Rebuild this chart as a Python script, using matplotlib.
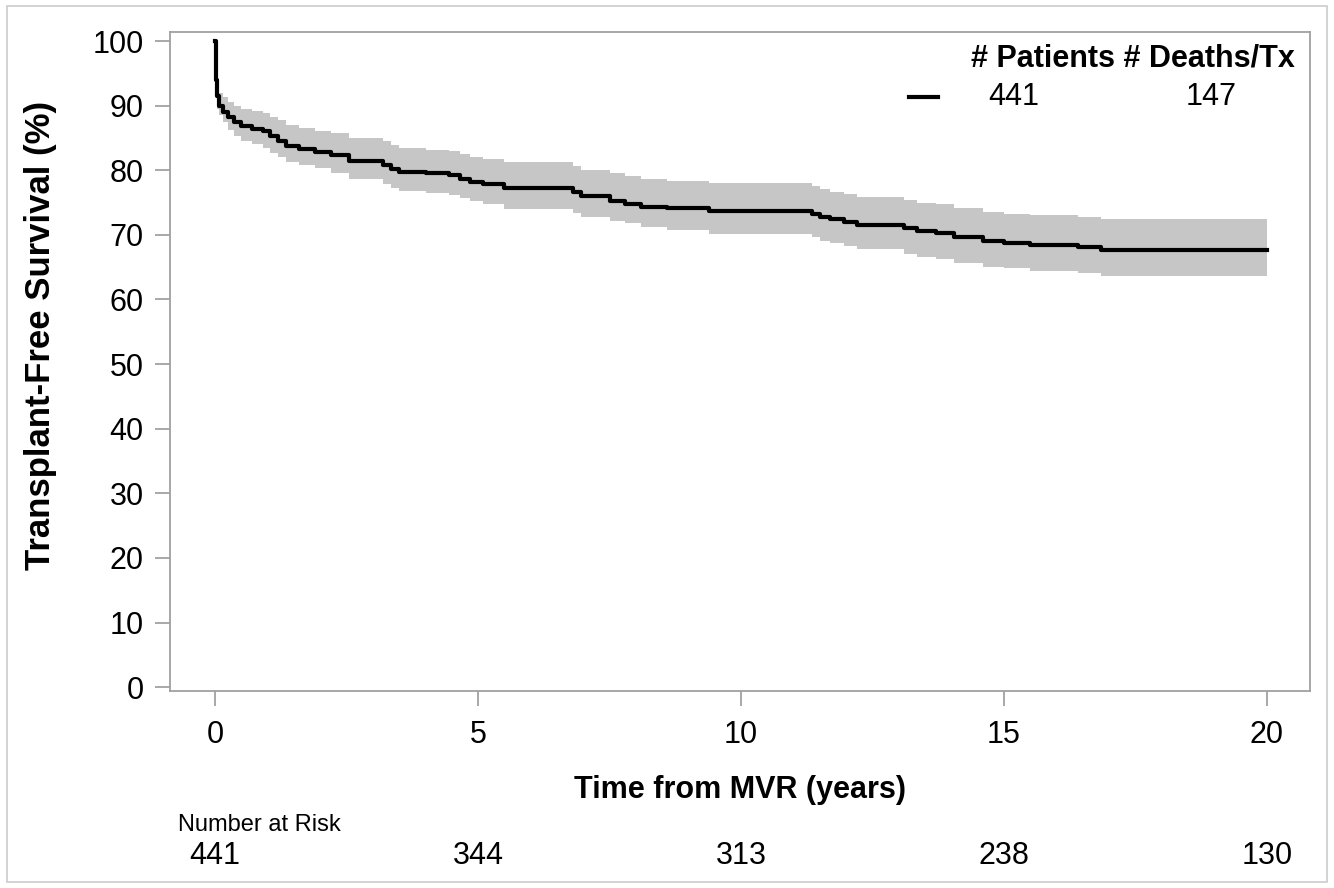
import matplotlib
matplotlib.use("Agg")
import matplotlib.pyplot as plt
from matplotlib.lines import Line2D
from matplotlib.patches import Rectangle

plt.rcParams['font.family'] = ['Liberation Sans Narrow', 'Liberation Sans', 'DejaVu Sans']

# ---- data ----
times = [0, 0.02, 0.04, 0.08, 0.15, 0.25, 0.35, 0.5, 0.7, 0.9,
         1.05, 1.2, 1.35, 1.6, 1.9, 2.2, 2.55, 3.2, 3.35, 3.5,
         4.0, 4.45, 4.65, 4.85, 5.1, 5.5, 6.8, 6.95, 7.5, 7.8,
         8.1, 8.6, 9.4, 11.35, 11.5, 11.7, 11.95, 12.2, 13.1, 13.35,
         13.7, 14.05, 14.6, 15.0, 15.5, 16.4, 16.85, 20.0]
surv = [100, 94, 91.5, 90, 89, 88.2, 87.4, 86.8, 86.4, 86.0,
        85.3, 84.6, 83.8, 83.3, 82.8, 82.3, 81.4, 80.8, 80.2, 79.8,
        79.5, 79.2, 78.7, 78.2, 77.8, 77.3, 76.6, 76.0, 75.2, 74.8,
        74.3, 74.1, 73.7, 73.2, 72.8, 72.4, 72.0, 71.5, 71.0, 70.6,
        70.3, 69.7, 69.1, 68.7, 68.4, 68.1, 67.6, 67.6]
upper = [100, 94, 92.3, 92.0, 91.3, 90.6, 90.0, 89.5, 89.2, 88.9,
         88.3, 87.7, 87.0, 86.5, 86.1, 85.7, 85.0, 84.5, 83.9, 83.5,
         83.2, 83.0, 82.5, 82.1, 81.7, 81.3, 80.6, 80.0, 79.5, 79.1,
         78.6, 78.3, 78.0, 77.5, 77.1, 76.7, 76.3, 75.9, 75.4, 75.0,
         74.7, 74.2, 73.6, 73.3, 73.0, 72.8, 72.5, 72.5]
lower = [100, 94, 89.5, 88.5, 87.5, 86.3, 85.3, 84.5, 84.0, 83.5,
         82.7, 82.0, 81.3, 80.8, 80.3, 79.5, 78.6, 77.9, 77.2, 76.8,
         76.5, 76.2, 75.7, 75.2, 74.8, 74.0, 73.4, 72.7, 72.2, 71.8,
         71.2, 70.8, 70.2, 69.6, 69.1, 68.7, 68.2, 67.8, 67.1, 66.6,
         66.2, 65.7, 65.1, 64.8, 64.4, 64.1, 63.7, 63.7]

risk_times = [0, 5, 10, 15, 20]
risk_counts = [441, 344, 313, 238, 130]
n_patients = 441
n_events = 147
x_ticks = [0, 5, 10, 15, 20]
y_ticks = list(range(0, 101, 10))

# ---- figure ----
fig = plt.figure(figsize=(13.34, 8.88), dpi=100)
fig.patches.append(Rectangle((0.005, 0.007), 0.99, 0.986, transform=fig.transFigure,
                             fill=False, edgecolor='#cccccc', linewidth=1.2))
ax = fig.add_axes([0.1274, 0.2218, 0.8546, 0.7422])

ax.fill_between(times, lower, upper, step='post', color='#c6c6c6', linewidth=0, zorder=1)
ax.step(times, surv, where='post', color='black', linewidth=3.0, zorder=3)

ax.set_xlim(-0.86, 20.82)
ax.set_ylim(-0.6, 101.4)
ax.set_xticks(x_ticks)
ax.set_yticks(y_ticks)
ax.tick_params(axis='both', direction='out', length=11, width=1.2, color='#999999',
               labelsize=22, pad=8)
ax.tick_params(axis='x', pad=10)
for s in ax.spines.values():
    s.set_color('#a0a0a0')
    s.set_linewidth(1.3)

ax.set_ylabel('Transplant-Free Survival (%)', fontsize=25, fontweight='bold')
ax.yaxis.set_label_coords(-0.099, 0.54)
ax.set_xlabel('Time from MVR (years)', fontsize=22, fontweight='bold', labelpad=18)

# legend-like header
ax.text(0.987, 0.96, '# Patients # Deaths/Tx', transform=ax.transAxes, ha='right', va='center',
        fontsize=22, fontweight='bold')
ax.add_line(Line2D([0.648, 0.674], [0.902, 0.902], transform=ax.transAxes, color='black',
                   linewidth=3.0))
ax.text(0.74, 0.902, str(n_patients), transform=ax.transAxes, ha='center', va='center', fontsize=22)
ax.text(0.913, 0.902, str(n_events), transform=ax.transAxes, ha='center', va='center', fontsize=22)

# number at risk
fig.text(178 / 1334, 1 - 825 / 888, 'Number at Risk', ha='left', va='center', fontsize=17)
for t, c in zip(risk_times, risk_counts):
    xf = ax.transData.transform((t, 0))[0] / fig.bbox.width
    fig.text(xf, 1 - 856 / 888, str(c), ha='center', va='center', fontsize=22)

fig.savefig('out.png', dpi=100)
